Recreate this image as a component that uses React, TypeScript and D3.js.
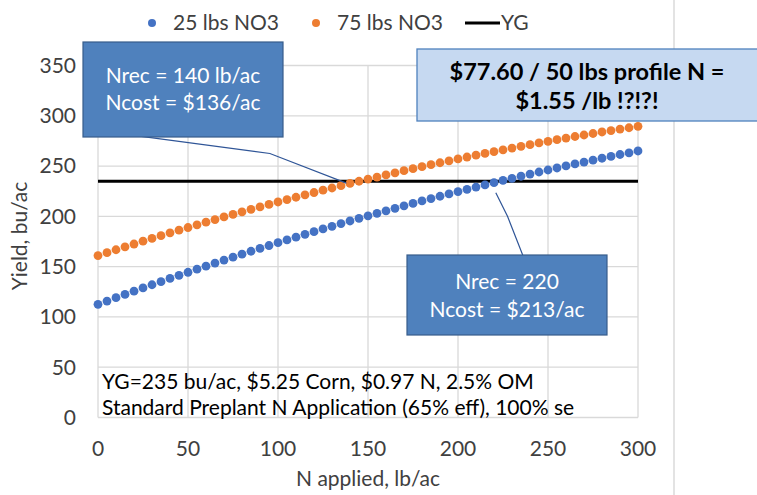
import React from "react";
import * as d3 from "d3";

const nApplied: number[] = d3.range(0, 301, 5);
const no3_25: number[] = [
  112.5, 115.8, 119.1, 122.4, 125.6, 128.8, 132.0, 135.1, 138.3, 141.4,
  144.4, 147.5, 150.5, 153.5, 156.5, 159.4, 162.4, 165.3, 168.1, 171.0,
  173.8, 176.6, 179.3, 182.1, 184.8, 187.5, 190.1, 192.8, 195.4, 198.0,
  200.5, 203.0, 205.5, 208.0, 210.5, 212.9, 215.3, 217.7, 220.0, 222.3,
  224.6, 226.9, 229.1, 231.3, 233.5, 235.7, 237.8, 239.9, 242.0, 244.1,
  246.1, 248.1, 250.1, 252.1, 254.0, 255.9, 257.8, 259.6, 261.5, 263.2,
  265.0,
];
const no3_75: number[] = [
  161.0, 163.9, 166.8, 169.7, 172.5, 175.3, 178.1, 180.8, 183.6, 186.3,
  188.9, 191.6, 194.2, 196.8, 199.4, 201.9, 204.5, 207.0, 209.4, 211.9,
  214.3, 216.7, 219.0, 221.4, 223.7, 226.0, 228.2, 230.5, 232.7, 234.9,
  237.0, 239.1, 241.2, 243.3, 245.4, 247.4, 249.4, 251.4, 253.3, 255.2,
  257.1, 259.0, 260.8, 262.6, 264.4, 266.2, 267.9, 269.6, 271.3, 273.0,
  274.6, 276.2, 277.8, 279.4, 280.9, 282.4, 283.9, 285.3, 286.8, 288.1,
  289.5,
];
const yieldGoal = 235;
const xTicks: number[] = [0, 50, 100, 150, 200, 250, 300];
const yTicks: number[] = [0, 50, 100, 150, 200, 250, 300, 350];
const seriesNames: string[] = ["25 lbs NO3", "75 lbs NO3", "YG"];
const seriesColors: string[] = ["#4472C4", "#ED7D31", "#000000"];

const W = 757;
const H = 495;
const FONT = "Lato, 'Noto Sans', sans-serif";

export default function App() {
  const x = d3.scaleLinear().domain([0, 300]).range([98, 638]);
  const y = d3.scaleLinear().domain([0, 350]).range([417.5, 65.5]);
  const series = [no3_25, no3_75];
  const leader = d3.line<[number, number]>();

  const leader1: [number, number][] = [
    [x(22), y(280)],
    [x(95.5), y(262.5)],
    [x(138), y(233)],
  ];
  const leader3: [number, number][] = [
    [x(221), y(223.5)],
    [x(227.5), y(200)],
    [x(236.5), y(159)],
  ];

  return (
    <svg
      width={W}
      height={H}
      style={{ position: "absolute", left: 0, top: 0, background: "#fff" }}
      fontFamily={FONT}
    >
      <rect x={0} y={0} width={W} height={H} fill="#fff" />
      {/* right frame line */}
      <line x1={674} x2={674} y1={0} y2={H} stroke="#e3e3e3" strokeWidth={2} />
      {/* gridlines */}
      {yTicks.map((t) => (
        <line key={"gy" + t} x1={x(0)} x2={x(300)} y1={y(t)} y2={y(t)} stroke="#d9d9d9" strokeWidth={1.3} />
      ))}
      {xTicks.map((t) => (
        <line key={"gx" + t} x1={x(t)} x2={x(t)} y1={y(0)} y2={y(350)} stroke="#d9d9d9" strokeWidth={1.3} />
      ))}
      {/* tick labels */}
      {yTicks.map((t) => (
        <text key={"ty" + t} x={76} y={y(t)} dy="0.35em" textAnchor="end" fontSize={21} fill="#404040">
          {t}
        </text>
      ))}
      {xTicks.map((t) => (
        <text key={"tx" + t} x={x(t)} y={456} textAnchor="middle" fontSize={21} fill="#404040">
          {t}
        </text>
      ))}
      {/* axis titles */}
      <text x={368} y={486} textAnchor="middle" fontSize={21} fill="#404040">
        N applied, lb/ac
      </text>
      <text transform="translate(27,236) rotate(-90)" textAnchor="middle" fontSize={21} fill="#404040">
        Yield, bu/ac
      </text>
      {/* YG line */}
      <line x1={x(0)} x2={x(300)} y1={y(yieldGoal)} y2={y(yieldGoal)} stroke={seriesColors[2]} strokeWidth={3} />
      {/* series dots */}
      {series.map((vals, si) =>
        vals.map((v, i) => (
          <circle key={si + "-" + i} cx={x(nApplied[i])} cy={y(v)} r={4.4} fill={seriesColors[si]} />
        ))
      )}
      {/* legend */}
      <circle cx={152} cy={23} r={4} fill={seriesColors[0]} />
      <text x={173} y={30} fontSize={21} fill="#404040">{seriesNames[0]}</text>
      <circle cx={316} cy={23} r={4} fill={seriesColors[1]} />
      <text x={337} y={30} fontSize={21} fill="#404040">{seriesNames[1]}</text>
      <line x1={465} x2={500} y1={23} y2={23} stroke={seriesColors[2]} strokeWidth={3} />
      <text x={501} y={30} fontSize={21} fill="#404040">{seriesNames[2]}</text>

      {/* bottom-left note */}
      <text x={102} y={389} fontSize={21} fill="#000">
        YG=235 bu/ac, $5.25 Corn, $0.97 N, 2.5% OM
      </text>
      <text x={102} y={415} fontSize={21} fill="#000">
        Standard Preplant N Application (65% eff), 100% se
      </text>

      {/* leader lines */}
      <path d={leader(leader1) || ""} fill="none" stroke="#2F5597" strokeWidth={1.2} />
      <path d={leader(leader3) || ""} fill="none" stroke="#2F5597" strokeWidth={1.2} />

      {/* callout 1 */}
      <rect x={83} y={42} width={200} height={95} fill="#4F81BD" stroke="#385D8A" strokeWidth={1.2} />
      <text x={183} y={83} textAnchor="middle" fontSize={21} fill="#fff">Nrec = 140 lb/ac</text>
      <text x={183} y={110} textAnchor="middle" fontSize={21} fill="#fff">Ncost = $136/ac</text>

      {/* callout 3 */}
      <rect x={407} y={255} width={200} height={80} fill="#4F81BD" stroke="#385D8A" strokeWidth={1.2} />
      <text x={507} y={289} textAnchor="middle" fontSize={21} fill="#fff">Nrec = 220</text>
      <text x={507} y={317} textAnchor="middle" fontSize={21} fill="#fff">Ncost = $213/ac</text>

      {/* callout 2 */}
      <rect x={417} y={49} width={345} height={72} fill="#C6D9F1" stroke="#4F81BD" strokeWidth={1.3} />
      <text x={587} y={80} textAnchor="middle" fontSize={23.5} fontWeight="bold" fill="#000">
        $77.60 / 50 lbs profile N =
      </text>
      <text x={587} y={109} textAnchor="middle" fontSize={23.5} fontWeight="bold" fill="#000">
        $1.55 /lb !?!?!
      </text>
    </svg>
  );
}
